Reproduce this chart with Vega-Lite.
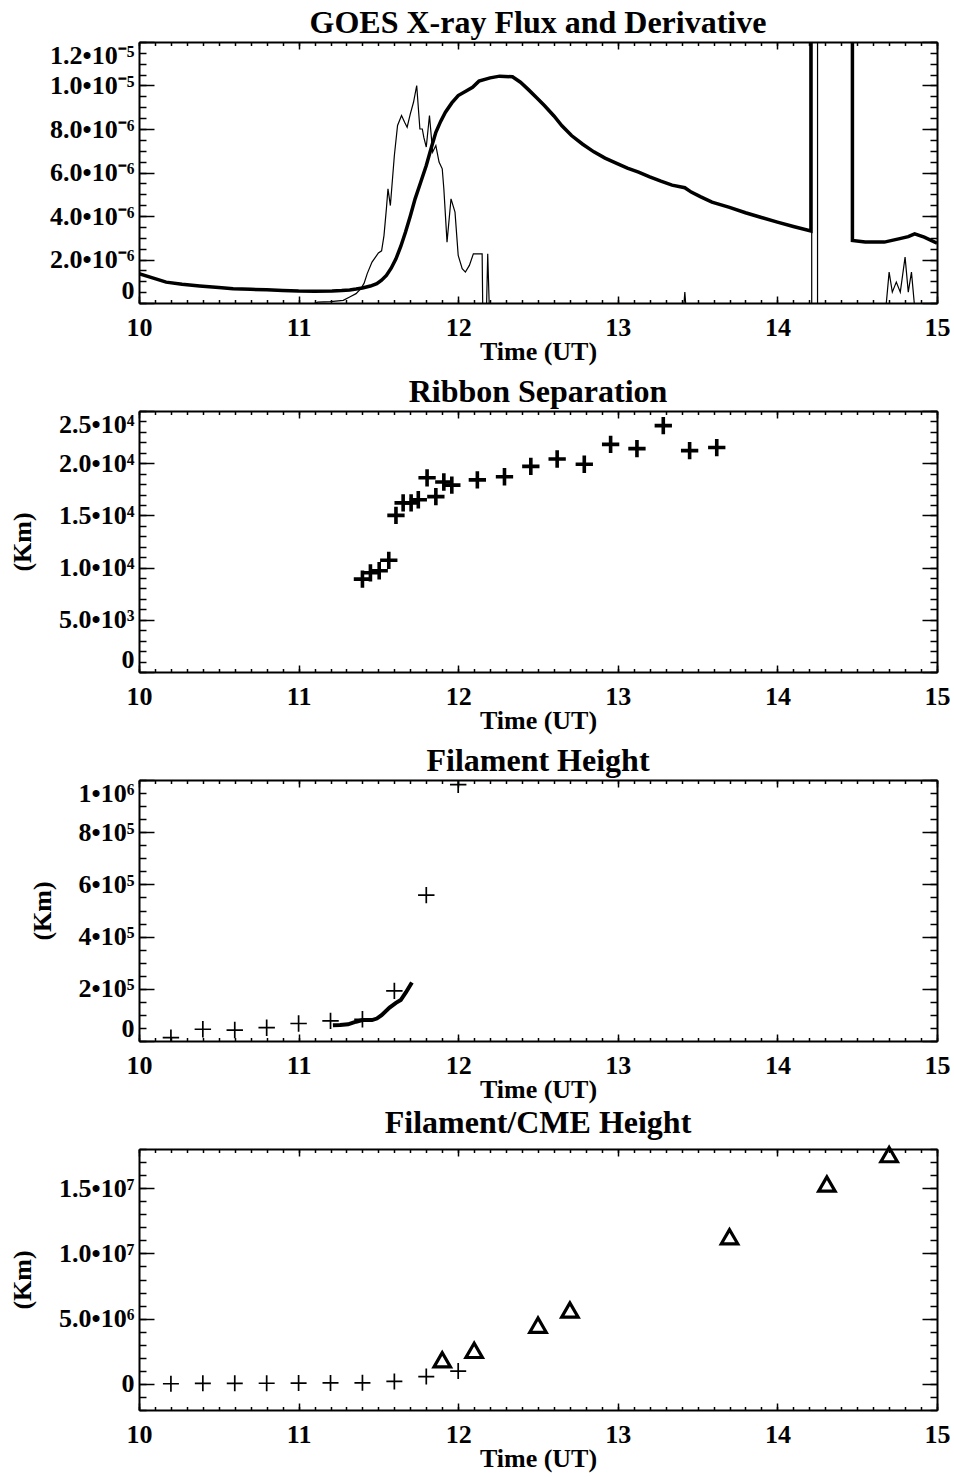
{
  "$schema": "https://vega.github.io/schema/vega-lite/v6.json",
  "background": "white",
  "padding": {"left": 9, "top": 7, "right": 5, "bottom": 5},
  "bounds": "flush",
  "spacing": 108,
  "config": {
    "font": "Liberation Serif",
    "view": {"stroke": null},
    "axis": {
      "labelFont": "Liberation Serif", "labelFontWeight": "bold", "labelFontSize": 26, "labelColor": "black",
      "titleFont": "Liberation Serif", "titleFontWeight": "bold", "titleFontSize": 26, "titleColor": "black",
      "domainColor": "black", "domainWidth": 2, "tickColor": "black", "tickWidth": 1.5,
      "grid": false, "labelOverlap": false
    },
    "title": {"font": "Liberation Serif", "fontWeight": "bold", "fontSize": 32, "color": "black", "frame": "group", "baseline": "alphabetic", "offset": 1}
  },
  "datasets": {
    "flux": [
      {"t": 10.0, "v": 1.35e-6}, {"t": 10.1, "v": 1.12e-6}, {"t": 10.17, "v": 0.96e-6}, {"t": 10.27, "v": 0.86e-6},
      {"t": 10.38, "v": 0.78e-6}, {"t": 10.5, "v": 0.71e-6}, {"t": 10.59, "v": 0.66e-6}, {"t": 10.7, "v": 0.63e-6},
      {"t": 10.8, "v": 0.61e-6}, {"t": 10.9, "v": 0.58e-6}, {"t": 11.0, "v": 0.55e-6}, {"t": 11.1, "v": 0.54e-6},
      {"t": 11.21, "v": 0.55e-6}, {"t": 11.27, "v": 0.57e-6}, {"t": 11.32, "v": 0.6e-6}, {"t": 11.36, "v": 0.64e-6},
      {"t": 11.4, "v": 0.69e-6}, {"t": 11.45, "v": 0.78e-6}, {"t": 11.49, "v": 0.89e-6}, {"t": 11.52, "v": 1.05e-6},
      {"t": 11.55, "v": 1.27e-6}, {"t": 11.58, "v": 1.6e-6}, {"t": 11.61, "v": 2.03e-6}, {"t": 11.64, "v": 2.6e-6},
      {"t": 11.67, "v": 3.26e-6}, {"t": 11.7, "v": 4.0e-6}, {"t": 11.73, "v": 4.79e-6}, {"t": 11.765, "v": 5.55e-6},
      {"t": 11.8, "v": 6.32e-6}, {"t": 11.83, "v": 7.1e-6}, {"t": 11.86, "v": 7.85e-6}, {"t": 11.89, "v": 8.35e-6},
      {"t": 11.92, "v": 8.77e-6}, {"t": 11.96, "v": 9.2e-6}, {"t": 12.0, "v": 9.54e-6}, {"t": 12.05, "v": 9.75e-6},
      {"t": 12.09, "v": 9.92e-6}, {"t": 12.13, "v": 10.2e-6}, {"t": 12.2, "v": 10.35e-6}, {"t": 12.26, "v": 10.43e-6},
      {"t": 12.34, "v": 10.4e-6}, {"t": 12.39, "v": 10.15e-6}, {"t": 12.44, "v": 9.81e-6}, {"t": 12.49, "v": 9.45e-6},
      {"t": 12.54, "v": 9.08e-6}, {"t": 12.6, "v": 8.6e-6}, {"t": 12.65, "v": 8.15e-6}, {"t": 12.71, "v": 7.7e-6},
      {"t": 12.78, "v": 7.3e-6}, {"t": 12.85, "v": 6.95e-6}, {"t": 12.92, "v": 6.66e-6}, {"t": 13.0, "v": 6.4e-6},
      {"t": 13.06, "v": 6.2e-6}, {"t": 13.13, "v": 6.02e-6}, {"t": 13.2, "v": 5.8e-6}, {"t": 13.27, "v": 5.6e-6},
      {"t": 13.34, "v": 5.42e-6}, {"t": 13.42, "v": 5.3e-6}, {"t": 13.46, "v": 5.1e-6}, {"t": 13.52, "v": 4.88e-6},
      {"t": 13.59, "v": 4.64e-6}, {"t": 13.7, "v": 4.4e-6}, {"t": 13.8, "v": 4.15e-6}, {"t": 13.9, "v": 3.93e-6},
      {"t": 14.0, "v": 3.72e-6}, {"t": 14.1, "v": 3.52e-6}, {"t": 14.21, "v": 3.31e-6}, {"t": 14.219, "v": 1e-3},
      {"t": 14.469, "v": 1e-3}, {"t": 14.47, "v": 2.88e-6}, {"t": 14.55, "v": 2.8e-6}, {"t": 14.67, "v": 2.8e-6},
      {"t": 14.76, "v": 2.95e-6}, {"t": 14.82, "v": 3.05e-6}, {"t": 14.86, "v": 3.18e-6}, {"t": 14.92, "v": 3.03e-6},
      {"t": 15.0, "v": 2.75e-6}
    ],
    "deriv": [
      {"t": 10.0, "v": -1.0e-6}, {"t": 11.0, "v": -0.3e-6}, {"t": 11.1, "v": -0.02e-6}, {"t": 11.12, "v": 0.04e-6},
      {"t": 11.2, "v": 0.06e-6}, {"t": 11.28, "v": 0.12e-6}, {"t": 11.32, "v": 0.28e-6}, {"t": 11.36, "v": 0.43e-6},
      {"t": 11.39, "v": 0.66e-6}, {"t": 11.41, "v": 0.9e-6}, {"t": 11.43, "v": 1.35e-6}, {"t": 11.46, "v": 1.88e-6},
      {"t": 11.5, "v": 2.3e-6}, {"t": 11.52, "v": 2.4e-6}, {"t": 11.535, "v": 3.1e-6}, {"t": 11.55, "v": 4.33e-6},
      {"t": 11.56, "v": 5.25e-6}, {"t": 11.575, "v": 4.48e-6}, {"t": 11.6, "v": 6.78e-6}, {"t": 11.62, "v": 8.16e-6},
      {"t": 11.645, "v": 8.62e-6}, {"t": 11.665, "v": 8.3e-6}, {"t": 11.68, "v": 8.08e-6}, {"t": 11.7, "v": 8.7e-6},
      {"t": 11.72, "v": 9.23e-6}, {"t": 11.74, "v": 10.0e-6}, {"t": 11.76, "v": 8.0e-6}, {"t": 11.775, "v": 8.0e-6},
      {"t": 11.785, "v": 7.6e-6}, {"t": 11.8, "v": 7.17e-6}, {"t": 11.82, "v": 8.62e-6}, {"t": 11.84, "v": 6.94e-6},
      {"t": 11.86, "v": 7.24e-6}, {"t": 11.88, "v": 6.48e-6}, {"t": 11.9, "v": 6.17e-6}, {"t": 11.91, "v": 5.25e-6},
      {"t": 11.93, "v": 2.8e-6}, {"t": 11.955, "v": 4.79e-6}, {"t": 11.98, "v": 4.18e-6}, {"t": 12.0, "v": 2.19e-6},
      {"t": 12.025, "v": 1.58e-6}, {"t": 12.045, "v": 1.42e-6}, {"t": 12.07, "v": 1.73e-6}, {"t": 12.095, "v": 2.26e-6},
      {"t": 12.15, "v": 2.26e-6}, {"t": 12.155, "v": -1e-6}, {"t": 12.175, "v": -1e-6}, {"t": 12.185, "v": 2.26e-6},
      {"t": 12.198, "v": -1e-6}, {"t": 12.3, "v": -1.5e-6}, {"t": 13.0, "v": -1e-6}, {"t": 13.41, "v": -0.5e-6},
      {"t": 13.42, "v": 0.5e-6}, {"t": 13.43, "v": -0.5e-6}, {"t": 14.0, "v": -0.5e-6}, {"t": 14.215, "v": -0.5e-6},
      {"t": 14.219, "v": 1e-3}, {"t": 14.251, "v": 1e-3}, {"t": 14.252, "v": -1e-3}, {"t": 14.3, "v": -1e-6},
      {"t": 14.68, "v": -0.2e-6}, {"t": 14.7, "v": 1.42e-6}, {"t": 14.72, "v": 0.5e-6}, {"t": 14.745, "v": 0.96e-6},
      {"t": 14.77, "v": 0.5e-6}, {"t": 14.8, "v": 2.11e-6}, {"t": 14.82, "v": 0.5e-6}, {"t": 14.84, "v": 1.42e-6},
      {"t": 14.86, "v": -0.2e-6}, {"t": 15.0, "v": -0.5e-6}
    ],
    "ribbon": [
      {"t": 11.40, "v": 8900}, {"t": 11.45, "v": 9500}, {"t": 11.505, "v": 9700}, {"t": 11.565, "v": 10700},
      {"t": 11.61, "v": 15000}, {"t": 11.655, "v": 16200}, {"t": 11.705, "v": 16200}, {"t": 11.75, "v": 16500},
      {"t": 11.805, "v": 18600}, {"t": 11.86, "v": 16800}, {"t": 11.91, "v": 18200}, {"t": 11.96, "v": 17900},
      {"t": 12.12, "v": 18400}, {"t": 12.29, "v": 18700}, {"t": 12.455, "v": 19700}, {"t": 12.62, "v": 20400},
      {"t": 12.79, "v": 19900}, {"t": 12.955, "v": 21800}, {"t": 13.12, "v": 21400}, {"t": 13.285, "v": 23600},
      {"t": 13.45, "v": 21200}, {"t": 13.62, "v": 21500}
    ],
    "filament": [
      {"t": 10.2, "v": 13000}, {"t": 10.4, "v": 45000}, {"t": 10.6, "v": 42000}, {"t": 10.8, "v": 51000},
      {"t": 11.0, "v": 67000}, {"t": 11.2, "v": 77000}, {"t": 11.4, "v": 83000}, {"t": 11.6, "v": 192000},
      {"t": 11.8, "v": 559000}, {"t": 12.0, "v": 982000}
    ],
    "filamentFit": [
      {"t": 11.215, "v": 60000}, {"t": 11.26, "v": 61000}, {"t": 11.31, "v": 64000}, {"t": 11.36, "v": 74000},
      {"t": 11.4, "v": 80000}, {"t": 11.46, "v": 80000}, {"t": 11.49, "v": 86000}, {"t": 11.52, "v": 99000},
      {"t": 11.57, "v": 128000}, {"t": 11.61, "v": 146000}, {"t": 11.64, "v": 157000}, {"t": 11.672, "v": 186000},
      {"t": 11.71, "v": 224000}
    ],
    "cme": [
      {"t": 11.9, "v": 1850000}, {"t": 12.1, "v": 2570000}, {"t": 12.5, "v": 4500000}, {"t": 12.7, "v": 5660000},
      {"t": 13.7, "v": 11280000}, {"t": 14.31, "v": 15320000}, {"t": 14.7, "v": 17570000}
    ]
  },
  "vconcat": [
    {
      "width": 798, "height": 261,
      "title": {"text": "GOES X-ray Flux and Derivative"},
      "resolve": {"axis": {"x": "independent", "y": "independent"}},
      "layer": [
        {
          "data": {"name": "flux"},
          "mark": {"type": "line", "clip": true, "strokeWidth": 3.5, "color": "black"},
          "encoding": {
            "x": {"field": "t", "type": "quantitative", "scale": {"domain": [10, 15], "nice": false, "zero": false},
                  "axis": {"orient": "bottom", "values": [10, 11, 12, 13, 14, 15], "title": "Time (UT)", "tickSize": -7, "labelPadding": 18, "labelFlush": false, "titlePadding": -2}},
            "y": {"field": "v", "type": "quantitative", "scale": {"domain": [0, 1.2e-5], "nice": false, "zero": false},
                  "axis": {"orient": "left", "values": [0, 2e-6, 4e-6, 6e-6, 8e-6, 1e-5, 1.2e-5], "title": null, "tickSize": -15, "labelPadding": 20, "labelFlush": true,
                           "labelExpr": "datum.value == 0 ? '0' : (datum.value > 9e-6 ? format(datum.value * 1e5, '.1f') + '•10⁻⁵' : format(datum.value * 1e6, '.1f') + '•10⁻⁶')"}}
          }
        },
        {
          "data": {"name": "deriv"},
          "mark": {"type": "line", "clip": true, "strokeWidth": 1.2, "color": "black"},
          "encoding": {
            "x": {"field": "t", "type": "quantitative", "axis": {"orient": "top", "values": [10, 11, 12, 13, 14, 15], "title": null, "labels": false, "tickSize": -7}},
            "y": {"field": "v", "type": "quantitative", "axis": {"orient": "right", "values": [0, 2e-6, 4e-6, 6e-6, 8e-6, 1e-5, 1.2e-5], "title": null, "labels": false, "tickSize": -15}}
          }
        },
        {
          "data": {"name": "flux"},
          "mark": {"type": "point", "opacity": 0, "clip": true},
          "encoding": {
            "x": {"field": "t", "type": "quantitative", "axis": {"orient": "bottom", "tickCount": 50, "title": null, "labels": false, "domain": false, "tickSize": -3.5}},
            "y": {"field": "v", "type": "quantitative", "axis": {"orient": "left", "tickCount": 24, "title": null, "labels": false, "domain": false, "tickSize": -7}}
          }
        },
        {
          "data": {"name": "flux"},
          "mark": {"type": "point", "opacity": 0, "clip": true},
          "encoding": {
            "x": {"field": "t", "type": "quantitative", "axis": {"orient": "top", "tickCount": 50, "title": null, "labels": false, "domain": false, "tickSize": -3.5}},
            "y": {"field": "v", "type": "quantitative", "axis": {"orient": "right", "tickCount": 24, "title": null, "labels": false, "domain": false, "tickSize": -7}}
          }
        }
      ]
    },
    {
      "width": 798, "height": 261,
      "title": {"text": "Ribbon Separation"},
      "resolve": {"axis": {"x": "independent", "y": "independent"}},
      "layer": [
        {
          "data": {"name": "ribbon"},
          "mark": {"type": "point", "shape": "M-1,0H1M0,-1V1", "filled": false, "size": 300, "strokeWidth": 3.6, "color": "black", "opacity": 1},
          "encoding": {
            "x": {"field": "t", "type": "quantitative", "scale": {"domain": [10, 15], "nice": false, "zero": false},
                  "axis": {"orient": "bottom", "values": [10, 11, 12, 13, 14, 15], "title": "Time (UT)", "tickSize": -7, "labelPadding": 18, "labelFlush": false, "titlePadding": -2}},
            "y": {"field": "v", "type": "quantitative", "scale": {"domain": [0, 25000], "nice": false, "zero": false},
                  "axis": {"orient": "left", "values": [0, 5000, 10000, 15000, 20000, 25000], "title": "(Km)", "titlePadding": 23, "tickSize": -15, "labelPadding": 20, "labelFlush": true,
                           "labelExpr": "datum.value == 0 ? '0' : (datum.value < 9000 ? format(datum.value / 1e3, '.1f') + '•10³' : format(datum.value / 1e4, '.1f') + '•10⁴')"}}
          }
        },
        {
          "data": {"name": "ribbon"},
          "mark": {"type": "point", "opacity": 0},
          "encoding": {
            "x": {"field": "t", "type": "quantitative", "axis": {"orient": "top", "values": [10, 11, 12, 13, 14, 15], "title": null, "labels": false, "tickSize": -7}},
            "y": {"field": "v", "type": "quantitative", "axis": {"orient": "right", "values": [0, 5000, 10000, 15000, 20000, 25000], "title": null, "labels": false, "tickSize": -15}}
          }
        },
        {
          "data": {"name": "ribbon"},
          "mark": {"type": "point", "opacity": 0},
          "encoding": {
            "x": {"field": "t", "type": "quantitative", "axis": {"orient": "bottom", "tickCount": 50, "title": null, "labels": false, "domain": false, "tickSize": -3.5}},
            "y": {"field": "v", "type": "quantitative", "axis": {"orient": "left", "tickCount": 25, "title": null, "labels": false, "domain": false, "tickSize": -7}}
          }
        },
        {
          "data": {"name": "ribbon"},
          "mark": {"type": "point", "opacity": 0},
          "encoding": {
            "x": {"field": "t", "type": "quantitative", "axis": {"orient": "top", "tickCount": 50, "title": null, "labels": false, "domain": false, "tickSize": -3.5}},
            "y": {"field": "v", "type": "quantitative", "axis": {"orient": "right", "tickCount": 25, "title": null, "labels": false, "domain": false, "tickSize": -7}}
          }
        }
      ]
    },
    {
      "width": 798, "height": 261,
      "title": {"text": "Filament Height"},
      "resolve": {"axis": {"x": "independent", "y": "independent"}},
      "layer": [
        {
          "data": {"name": "filament"},
          "mark": {"type": "point", "shape": "M-1,0H1M0,-1V1", "filled": false, "size": 270, "strokeWidth": 1.7, "color": "black", "opacity": 1, "clip": true},
          "encoding": {
            "x": {"field": "t", "type": "quantitative", "scale": {"domain": [10, 15], "nice": false, "zero": false},
                  "axis": {"orient": "bottom", "values": [10, 11, 12, 13, 14, 15], "title": "Time (UT)", "tickSize": -7, "labelPadding": 18, "labelFlush": false, "titlePadding": -2}},
            "y": {"field": "v", "type": "quantitative", "scale": {"domain": [0, 1000000], "nice": false, "zero": false},
                  "axis": {"orient": "left", "values": [0, 200000, 400000, 600000, 800000, 1000000], "title": "(Km)", "titlePadding": 23, "tickSize": -15, "labelPadding": 20, "labelFlush": true,
                           "labelExpr": "datum.value == 0 ? '0' : (datum.value > 900000 ? format(datum.value / 1e6, '.0f') + '•10⁶' : format(datum.value / 1e5, '.0f') + '•10⁵')"}}
          }
        },
        {
          "data": {"name": "filamentFit"},
          "mark": {"type": "line", "strokeWidth": 4, "color": "black", "clip": true},
          "encoding": {
            "x": {"field": "t", "type": "quantitative", "axis": {"orient": "top", "values": [10, 11, 12, 13, 14, 15], "title": null, "labels": false, "tickSize": -7}},
            "y": {"field": "v", "type": "quantitative", "axis": {"orient": "right", "values": [0, 200000, 400000, 600000, 800000, 1000000], "title": null, "labels": false, "tickSize": -15}}
          }
        },
        {
          "data": {"name": "filament"},
          "mark": {"type": "point", "opacity": 0},
          "encoding": {
            "x": {"field": "t", "type": "quantitative", "axis": {"orient": "bottom", "tickCount": 50, "title": null, "labels": false, "domain": false, "tickSize": -3.5}},
            "y": {"field": "v", "type": "quantitative", "axis": {"orient": "left", "tickCount": 20, "title": null, "labels": false, "domain": false, "tickSize": -7}}
          }
        },
        {
          "data": {"name": "filament"},
          "mark": {"type": "point", "opacity": 0},
          "encoding": {
            "x": {"field": "t", "type": "quantitative", "axis": {"orient": "top", "tickCount": 50, "title": null, "labels": false, "domain": false, "tickSize": -3.5}},
            "y": {"field": "v", "type": "quantitative", "axis": {"orient": "right", "tickCount": 20, "title": null, "labels": false, "domain": false, "tickSize": -7}}
          }
        }
      ]
    },
    {
      "width": 798, "height": 261,
      "title": {"text": "Filament/CME Height"},
      "resolve": {"axis": {"x": "independent", "y": "independent"}},
      "layer": [
        {
          "data": {"name": "filament"},
          "mark": {"type": "point", "shape": "M-1,0H1M0,-1V1", "filled": false, "size": 256, "strokeWidth": 1.7, "color": "black", "opacity": 1},
          "encoding": {
            "x": {"field": "t", "type": "quantitative", "scale": {"domain": [10, 15], "nice": false, "zero": false},
                  "axis": {"orient": "bottom", "values": [10, 11, 12, 13, 14, 15], "title": "Time (UT)", "tickSize": -7, "labelPadding": 18, "labelFlush": false, "titlePadding": -2}},
            "y": {"field": "v", "type": "quantitative", "scale": {"domain": [-2000000, 18000000], "nice": false, "zero": false},
                  "axis": {"orient": "left", "values": [0, 5000000, 10000000, 15000000], "title": "(Km)", "titlePadding": 23, "tickSize": -15, "labelPadding": 20, "labelFlush": true,
                           "labelExpr": "datum.value == 0 ? '0' : (datum.value < 9e6 ? format(datum.value / 1e6, '.1f') + '•10⁶' : format(datum.value / 1e7, '.1f') + '•10⁷')"}}
          }
        },
        {
          "data": {"name": "cme"},
          "mark": {"type": "point", "shape": "triangle-up", "filled": false, "size": 270, "strokeWidth": 3.2, "color": "black", "opacity": 1},
          "encoding": {
            "x": {"field": "t", "type": "quantitative", "axis": {"orient": "top", "values": [10, 11, 12, 13, 14, 15], "title": null, "labels": false, "tickSize": -7}},
            "y": {"field": "v", "type": "quantitative", "axis": {"orient": "right", "values": [0, 5000000, 10000000, 15000000], "title": null, "labels": false, "tickSize": -15}}
          }
        },
        {
          "data": {"name": "cme"},
          "mark": {"type": "point", "opacity": 0},
          "encoding": {
            "x": {"field": "t", "type": "quantitative", "axis": {"orient": "bottom", "tickCount": 50, "title": null, "labels": false, "domain": false, "tickSize": -3.5}},
            "y": {"field": "v", "type": "quantitative", "axis": {"orient": "left", "tickCount": 20, "title": null, "labels": false, "domain": false, "tickSize": -7}}
          }
        },
        {
          "data": {"name": "cme"},
          "mark": {"type": "point", "opacity": 0},
          "encoding": {
            "x": {"field": "t", "type": "quantitative", "axis": {"orient": "top", "tickCount": 50, "title": null, "labels": false, "domain": false, "tickSize": -3.5}},
            "y": {"field": "v", "type": "quantitative", "axis": {"orient": "right", "tickCount": 20, "title": null, "labels": false, "domain": false, "tickSize": -7}}
          }
        }
      ]
    }
  ]
}
